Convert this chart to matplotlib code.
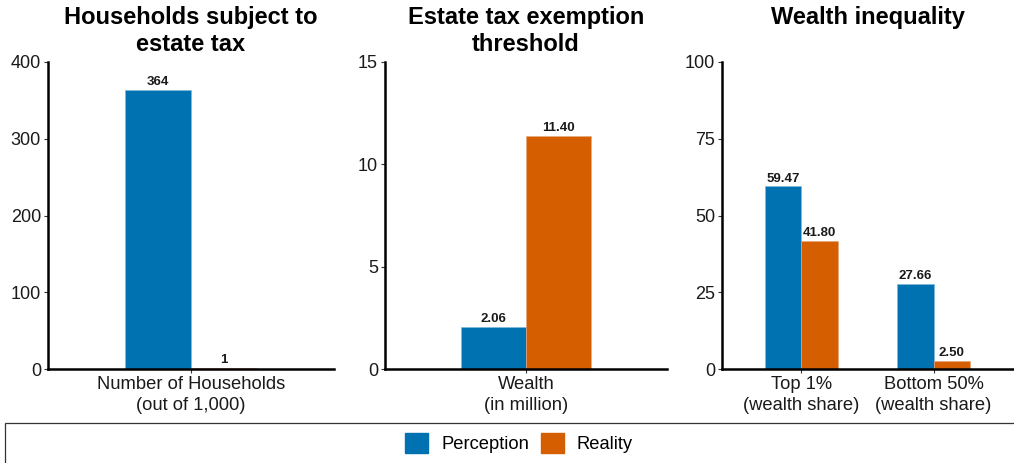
import matplotlib
matplotlib.use("Agg")
import matplotlib.pyplot as plt
from matplotlib.patches import Rectangle
import numpy as np

plt.rcParams['font.family'] = ['Liberation Sans', 'DejaVu Sans']

# Data
series = ["Perception", "Reality"]
colors = ["#0072B2", "#D55E00"]

titles = ["Households subject to\nestate tax",
          "Estate tax exemption\nthreshold",
          "Wealth inequality"]

hh_categories = ["Number of Households\n(out of 1,000)"]
hh_perception = [364]
hh_reality = [1]
hh_labels_p = ["364"]
hh_labels_r = ["1"]

thr_categories = ["Wealth\n(in million)"]
thr_perception = [2.06]
thr_reality = [11.40]

ineq_categories = ["Top 1%\n(wealth share)", "Bottom 50%\n(wealth share)"]
ineq_perception = [59.47, 27.66]
ineq_reality = [41.80, 2.50]

y_limits = [(0, 400), (0, 15), (0, 100)]
y_ticks = [[0, 100, 200, 300, 400], [0, 5, 10, 15], [0, 25, 50, 75, 100]]

panels = [
    (hh_categories, hh_perception, hh_reality, hh_labels_p, hh_labels_r),
    (thr_categories, thr_perception, thr_reality,
     [f"{v:.2f}" for v in thr_perception], [f"{v:.2f}" for v in thr_reality]),
    (ineq_categories, ineq_perception, ineq_reality,
     [f"{v:.2f}" for v in ineq_perception], [f"{v:.2f}" for v in ineq_reality]),
]

W, H = 1014, 463
fig = plt.figure(figsize=(W / 100, H / 100), dpi=100)

# axes boxes in pixels: left, right, top, bottom
boxes = [(48, 334, 62, 369), (385, 667, 62, 369), (722, 1013, 62, 369)]

bar_w = 0.275
for i, (box, panel) in enumerate(zip(boxes, panels)):
    l, r, t, b = box
    ax = fig.add_axes([l / W, 1 - b / H, (r - l) / W, (b - t) / H])
    cats, pv, rv, lp, lr = panel
    x = np.arange(1, len(cats) + 1)
    ax.bar(x - bar_w / 2, pv, width=bar_w, color=colors[0],
           edgecolor="#7fb8d8", linewidth=0.4)
    ax.bar(x + bar_w / 2, rv, width=bar_w, color=colors[1],
           edgecolor="#eaa67f", linewidth=0.4)
    ymax = y_limits[i][1]
    for xi, v, s in zip(x - bar_w / 2, pv, lp):
        ax.text(xi, v + ymax * 0.006, s, ha="center", va="bottom",
                fontsize=9.5, fontweight="bold", color="#1a1a1a")
    for xi, v, s in zip(x + bar_w / 2, rv, lr):
        ax.text(xi, v + ymax * 0.006, s, ha="center", va="bottom",
                fontsize=9.5, fontweight="bold", color="#1a1a1a")
    ax.set_xlim(0.4, len(cats) + 0.6)
    ax.set_ylim(*y_limits[i])
    ax.set_yticks(y_ticks[i])
    ax.set_xticks(x)
    ax.set_xticklabels(cats, fontsize=13.2, color="#1a1a1a", linespacing=1.3)
    ax.tick_params(axis="y", labelsize=13, labelcolor="#1a1a1a",
                   length=3, width=0.8, color="#333333", pad=2)
    ax.tick_params(axis="x", length=3, width=0.8, color="#333333", pad=2)
    for s in ["top", "right"]:
        ax.spines[s].set_visible(False)
    for s in ["left", "bottom"]:
        ax.spines[s].set_linewidth(1.8)
        ax.spines[s].set_color("black")
        ax.spines[s].set_capstyle("projecting")
    cx = (l + r) / 2 / W
    fig.text(cx, 1 - 6 / H, titles[i], ha="center", va="top",
             fontsize=17, fontweight="bold", linespacing=1.2)

# Legend frame and entries
fig.patches.append(Rectangle((5 / W, -0.1), (W + 10) / W, 0.1 + (H - 423) / H,
                             transform=fig.transFigure, fill=False,
                             edgecolor="#333333", linewidth=0.9))
handles = [Rectangle((0, 0), 1, 1, color=c) for c in colors]
fig.legend(handles, series, loc="center", bbox_to_anchor=(0.512, 1 - 443 / H),
           ncol=2, frameon=False, fontsize=13.2, handlelength=1.26,
           handleheight=1.26, columnspacing=0.65, handletextpad=0.7)

fig.savefig("out.png", dpi=100)
